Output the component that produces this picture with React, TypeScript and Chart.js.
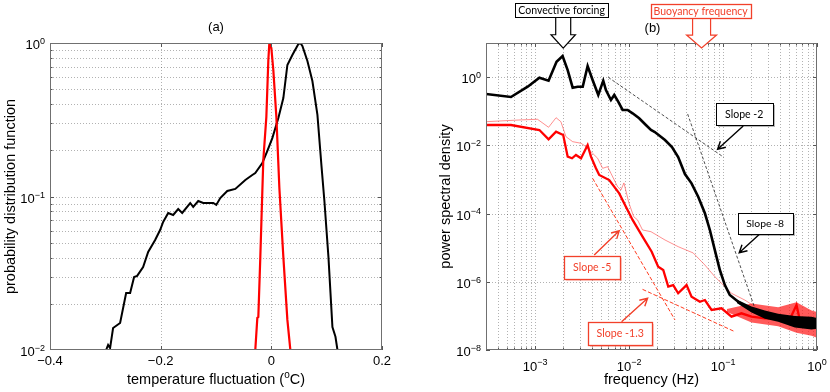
import React, { useEffect, useRef } from "react";
import { Chart, registerables } from "chart.js";

Chart.register(...registerables);

// ---------------- Panel (a): probability distribution function ----------------
const tempBlack = [-0.2986, -0.295, -0.2914, -0.286, -0.2733, -0.2624, -0.2552, -0.248, -0.2425, -0.2317, -0.2226, -0.21, -0.201, -0.1955, -0.1864, -0.1774, -0.1683, -0.1611, -0.1466, -0.1412, -0.1321, -0.1231, -0.105, -0.0995, -0.0923, -0.0796, -0.0651, -0.047, -0.0344, -0.029, -0.0163, -0.0072, 0.0018, 0.0127, 0.0217, 0.029, 0.038, 0.0489, 0.0525, 0.0561, 0.0652, 0.0742, 0.0833, 0.0905, 0.0959, 0.1032, 0.1104, 0.1159, 0.1195];
const pdfBlack = [0.01, 0.0108, 0.0103, 0.0139, 0.015, 0.0235, 0.0235, 0.0299, 0.0304, 0.0347, 0.0435, 0.0521, 0.0605, 0.0682, 0.0781, 0.0758, 0.0829, 0.0781, 0.0907, 0.0855, 0.0935, 0.0907, 0.0907, 0.0881, 0.0977, 0.1086, 0.112, 0.128, 0.138, 0.142, 0.165, 0.198, 0.24, 0.325, 0.438, 0.719, 0.835, 0.985, 1.0, 0.956, 0.763, 0.565, 0.34, 0.16, 0.0935, 0.0404, 0.0141, 0.0122, 0.01];
const tempRed = [-0.029, -0.0253, -0.0235, -0.0199, -0.0163, -0.0145, -0.009, -0.0054, -0.0036, 0.0, 0.0036, 0.0091, 0.0145, 0.0217, 0.029, 0.0344];
const pdfRed = [0.01, 0.0162, 0.0164, 0.0404, 0.107, 0.173, 0.33, 0.775, 1.0, 0.928, 0.667, 0.33, 0.114, 0.0404, 0.0157, 0.01];

const tempTicks = [-0.4, -0.2, 0, 0.2];
const tempTickLabels = ["\u22120.4", "\u22120.2", "0", "0.2"];
const pdfDecades = [0.01, 0.1, 1];
const pdfExps = ["\u22122", "\u22121", "0"];

// ---------------- Panel (b): power spectral density ----------------
const freqBlack = [3.0e-4, 5.53e-4, 8.33e-4, 1.11e-3, 1.39e-3, 1.69e-3, 1.96e-3, 2.22e-3, 2.51e-3, 2.84e-3, 3.21e-3, 3.62e-3, 4.09e-3, 4.70e-3, 5.31e-3, 5.67e-3, 6.41e-3, 6.95e-3, 7.66e-3, 8.53e-3, 9.64e-3, 1.09e-2, 1.28e-2, 1.51e-2, 1.71e-2, 1.88e-2, 2.41e-2, 2.86e-2, 3.33e-2, 3.93e-2, 4.62e-2, 5.44e-2, 6.41e-2, 7.24e-2, 8.18e-2, 9.25e-2, 0.1046, 0.118, 0.145, 0.201, 0.279, 0.386, 0.581, 0.875, 1.0];
const psdBlack = [0.32, 0.261, 0.524, 0.96, 0.785, 2.83, 4.16, 1.61, 0.49, 0.524, 0.524, 2.12, 0.822, 0.299, 0.785, 0.419, 0.213, 0.299, 0.19, 0.109, 0.109, 0.0869, 0.062, 0.0394, 0.0281, 0.0246, 0.0143, 0.00893, 0.00455, 0.00144, 7.7e-4, 3.12e-4, 1.02e-4, 3.3e-5, 8.5e-6, 2.21e-6, 8.0e-7, 4.09e-7, 2.6e-7, 1.49e-7, 1.06e-7, 8.5e-8, 6.7e-8, 6.05e-8, 6.1e-8];

const freqRed = [3.0e-4, 5.53e-4, 1.11e-3, 1.39e-3, 1.67e-3, 1.99e-3, 2.22e-3, 2.47e-3, 2.72e-3, 3.08e-3, 3.62e-3, 3.93e-3, 4.44e-3, 4.81e-3, 6.15e-3, 7.85e-3, 9.25e-3, 1.09e-2, 1.39e-2, 1.74e-2, 2.04e-2, 2.31e-2, 2.61e-2, 2.95e-2, 3.33e-2, 4.09e-2, 4.62e-2, 5.67e-2, 6.41e-2, 7.55e-2, 9.64e-2, 0.123, 0.157, 0.201, 0.279, 0.383, 0.514, 0.605, 0.656, 0.798, 1.0];
const psdRed = [0.0394, 0.0394, 0.0281, 0.015, 0.0251, 0.0201, 0.00465, 0.00417, 0.00521, 0.00417, 0.0102, 0.00465, 0.00212, 0.00135, 9.6e-4, 3.9e-4, 1.59e-4, 6.5e-5, 2.1e-5, 7.6e-6, 2.77e-6, 2.21e-6, 7.2e-7, 8.0e-7, 4.6e-7, 8.0e-7, 3.66e-7, 2.6e-7, 2.92e-7, 1.49e-7, 1.67e-7, 9.5e-8, 1.19e-7, 9.5e-8, 8.5e-8, 8.6e-8, 8.0e-8, 2.09e-7, 7.7e-8, 4.8e-8, 6.1e-8];

const freqRedThin = [3.0e-4, 6.73e-4, 1.06e-3, 1.39e-3, 1.67e-3, 1.88e-3, 2.13e-3, 2.51e-3, 3.08e-3, 3.48e-3, 4.09e-3, 4.63e-3, 5.23e-3, 5.91e-3, 6.41e-3, 7.55e-3, 8.19e-3, 8.81e-3, 9.96e-3, 1.12e-2, 1.23e-2, 1.39e-2, 1.71e-2, 2.41e-2, 3.33e-2, 4.81e-2, 6.41e-2, 8.18e-2, 0.1046, 0.123, 0.171, 0.247, 0.403, 0.656, 1.0];
const psdRedThin = [0.0493, 0.0553, 0.058, 0.0338, 0.0646, 0.0493, 0.0179, 0.0128, 0.0115, 0.00912, 0.00584, 0.00417, 0.00212, 0.00237, 0.00151, 6.1e-4, 4.9e-4, 7.9e-4, 2.04e-4, 8.1e-5, 6.5e-5, 3.3e-5, 2.94e-5, 1.68e-5, 1.07e-5, 7.0e-6, 3.1e-6, 1.41e-6, 7.2e-7, 4.6e-7, 2.9e-7, 1.5e-7, 8.6e-8, 6.6e-8, 3.8e-8];

// high-frequency noise envelopes
const freqBlackNoise = [0.14, 0.201, 0.279, 0.386, 0.581, 0.875, 1.0];
const psdBlackNoiseHi = [3.0e-7, 1.9e-7, 1.45e-7, 1.15e-7, 1.0e-7, 9.5e-8, 8.7e-8];
const psdBlackNoiseLo = [2.4e-7, 1.25e-7, 8.3e-8, 6.7e-8, 4.6e-8, 4.0e-8, 4.2e-8];
const freqRedNoise = [0.11, 0.201, 0.386, 0.605, 0.875, 1.0];
const psdRedNoiseHi = [1.6e-7, 2.3e-7, 1.8e-7, 2.5e-7, 1.45e-7, 1.3e-7];
const psdRedNoiseLo = [1.3e-7, 6.4e-8, 5.0e-8, 3.2e-8, 2.6e-8, 2.3e-8];

// reference slope lines
const slope2F = [6.0e-3, 0.102];
const slope2P = [0.986, 4.45e-3];
const slope8F = [0.042, 0.218];
const slope8P = [0.083, 1.67e-7];
const slope5F = [4.09e-3, 0.0308];
const slope5P = [1.08e-3, 7.6e-8];
const slope13F = [0.0139, 0.134];
const slope13P = [6.0e-7, 3.43e-8];

const freqDecades = [1e-3, 1e-2, 1e-1, 1];
const freqExps = ["\u22123", "\u22122", "\u22121", "0"];
const psdDecades = [1e-8, 1e-6, 1e-4, 1e-2, 1];
const psdExps = ["\u22128", "\u22126", "\u22124", "\u22122", "0"];

// ---------------- styling ----------------
const FONT = '"Liberation Sans", Arial, Helvetica, sans-serif';
const CALLOUT_FONT = 'Lato, "Open Sans", "DejaVu Sans", sans-serif';
const GRID = "rgba(0,0,0,0.3)";
const BORDER = "#707070";
const CALLOUT_RED = "#f2402a";

const slopeCallouts = [
  { text: "Slope -2", color: "#000", tipF: 0.0875, tipP: 7.66e-3, tail: [25.6, -23.3], box: [26.6, -35.1], size: [57, 22], textW: 38.3 },
  { text: "Slope -8", color: "#000", tipF: 0.1486, tipP: 7.1e-6, tail: [25.7, -23.4], box: [25.9, -29.7], size: [55, 21], textW: 37.7 },
  { text: "Slope -5", color: CALLOUT_RED, tipF: 7.85e-3, tipP: 3.14e-5, tail: [-25, 24.3], box: [-27, 36.3], size: [56, 23], textW: 38.3 },
  { text: "Slope -1.3", color: CALLOUT_RED, tipF: 0.01574, tipP: 3.27e-7, tail: [-26, 23.4], box: [-27.4, 35], size: [64, 23], textW: 47.3 },
];
const forcingCallouts = [
  { text: "Convective forcing", color: "#000", tipF: 1.99e-3, tipP: 7.1, box: [-1.6, -38], size: [93, 14], textW: 86.7, shaft: 7.5, head: 12.2, headLen: 13.3 },
  { text: "Buoyancy frequency", color: CALLOUT_RED, tipF: 0.0591, tipP: 7.1, box: [-0.9, -37.4], size: [100, 14], textW: 94.3, shaft: 9, head: 15, headLen: 13 },
];

function pts(xs: number[], ys: number[]) {
  return xs.map((x, i) => ({ x, y: ys[i] }));
}

function logMinor(lo: number, hi: number, startDecade: number, endDecade: number) {
  const out: number[] = [];
  for (let d = startDecade; d <= endDecade; d++) {
    for (let m = 1; m <= 9; m++) {
      const v = m * Math.pow(10, d);
      if (v > lo * 1.0001 && v < hi * 0.9999) out.push(v);
    }
  }
  return out;
}

function drawPower(ctx: CanvasRenderingContext2D, base: string, exp: string, x: number, y: number, align: "right" | "center", raise = 5.5) {
  ctx.font = `13px ${FONT}`;
  const wb = ctx.measureText(base).width;
  ctx.font = `9px ${FONT}`;
  const we = ctx.measureText(exp).width;
  const total = wb + we;
  const x0 = align === "right" ? x - total : x - total / 2;
  ctx.textAlign = "left";
  ctx.textBaseline = "alphabetic";
  ctx.font = `13px ${FONT}`;
  ctx.fillText(base, x0, y);
  ctx.font = `9px ${FONT}`;
  ctx.fillText(exp, x0 + wb, y - raise);
}

function drawFrame(ctx: CanvasRenderingContext2D, ca: any) {
  ctx.save();
  ctx.setLineDash([]);
  ctx.strokeStyle = BORDER;
  ctx.lineWidth = 1;
  ctx.strokeRect(ca.left + 0.5, ca.top + 0.5, ca.right - ca.left - 1, ca.bottom - ca.top - 1);
  ctx.restore();
}

function drawYTitle(ctx: CanvasRenderingContext2D, text: string, x: number, cy: number) {
  ctx.save();
  ctx.translate(x, cy);
  ctx.rotate(-Math.PI / 2);
  ctx.font = `14.5px ${FONT}`;
  ctx.textAlign = "center";
  ctx.textBaseline = "alphabetic";
  ctx.fillStyle = "#000";
  ctx.fillText(text, 0, 0);
  ctx.restore();
}

function fitFont(ctx: CanvasRenderingContext2D, text: string, targetW: number) {
  ctx.font = `20px ${CALLOUT_FONT}`;
  const w = ctx.measureText(text).width;
  const size = (20 * targetW) / w;
  return `${size.toFixed(2)}px ${CALLOUT_FONT}`;
}

function drawBox(ctx: CanvasRenderingContext2D, text: string, cx: number, cy: number, w: number, h: number, color: string, textW: number, shadow: boolean) {
  const x = Math.round(cx - w / 2) + 0.5;
  const y = Math.round(cy - h / 2) + 0.5;
  if (shadow) {
    ctx.fillStyle = color === "#000" ? "rgba(0,0,0,0.28)" : "rgba(240,70,50,0.25)";
    ctx.fillRect(x + 1.5, y + 1.5, w, h);
  }
  ctx.fillStyle = "#fff";
  ctx.fillRect(x, y, w, h);
  ctx.strokeStyle = color;
  ctx.lineWidth = color === "#000" ? 1 : 1.3;
  ctx.setLineDash([]);
  ctx.strokeRect(x, y, w, h);
  ctx.fillStyle = color;
  ctx.font = fitFont(ctx, text, textW);
  ctx.textAlign = "center";
  ctx.textBaseline = "middle";
  ctx.fillText(text, cx, cy + 0.5);
}

const panelAPlugin = {
  id: "panelA",
  beforeDatasetsDraw(chart: any) {
    const { ctx, chartArea: ca, scales } = chart;
    const xs = scales.x, ys = scales.y;
    ctx.save();
    ctx.strokeStyle = GRID;
    ctx.lineWidth = 1;
    ctx.setLineDash([1, 2]);
    ctx.beginPath();
    for (const v of tempTicks.slice(1, -1)) {
      const px = Math.round(xs.getPixelForValue(v)) + 0.5;
      ctx.moveTo(px, ca.top);
      ctx.lineTo(px, ca.bottom);
    }
    for (const v of logMinor(0.01, 1, -2, -1)) {
      const py = Math.round(ys.getPixelForValue(v)) + 0.5;
      ctx.moveTo(ca.left, py);
      ctx.lineTo(ca.right, py);
    }
    ctx.stroke();
    ctx.restore();
  },
  afterDatasetsDraw(chart: any) {
    const { ctx, chartArea: ca, scales } = chart;
    const xs = scales.x, ys = scales.y;
    ctx.save();
    ctx.setLineDash([]);
    ctx.strokeStyle = "#555";
    ctx.lineWidth = 1;
    ctx.beginPath();
    for (const v of tempTicks) {
      const px = Math.round(xs.getPixelForValue(v)) + 0.5;
      ctx.moveTo(px, ca.bottom); ctx.lineTo(px, ca.bottom - 4);
      ctx.moveTo(px, ca.top); ctx.lineTo(px, ca.top + 4);
    }
    for (const v of logMinor(0.01, 1, -2, -1)) {
      const py = Math.round(ys.getPixelForValue(v)) + 0.5;
      const len = Math.abs(Math.log10(v) - Math.round(Math.log10(v))) < 1e-6 ? 4 : 2.5;
      ctx.moveTo(ca.left, py); ctx.lineTo(ca.left + len, py);
      ctx.moveTo(ca.right, py); ctx.lineTo(ca.right - len, py);
    }
    ctx.stroke();
    ctx.restore();
    drawFrame(ctx, ca);

    ctx.save();
    ctx.fillStyle = "#000";
    ctx.font = `13px ${FONT}`;
    ctx.textAlign = "center";
    ctx.textBaseline = "alphabetic";
    tempTicks.forEach((v, i) => ctx.fillText(tempTickLabels[i], xs.getPixelForValue(v), ca.bottom + 15));
    pdfDecades.forEach((v, i) => drawPower(ctx, "10", pdfExps[i], ca.left - 5, ys.getPixelForValue(v) + 6, "right", 4.8));

    const cx = (ca.left + ca.right) / 2;
    ctx.font = `13px ${FONT}`;
    ctx.textAlign = "center";
    ctx.fillText("(a)", cx, ca.top - 12);

    const p1 = "temperature fluctuation (", sup = "o", p2 = "C)";
    ctx.font = `14.5px ${FONT}`;
    const w1 = ctx.measureText(p1).width, w3 = ctx.measureText(p2).width;
    ctx.font = `10px ${FONT}`;
    const w2 = ctx.measureText(sup).width;
    const x0 = cx - (w1 + w2 + w3) / 2;
    const by = ca.bottom + 34;
    ctx.textAlign = "left";
    ctx.font = `14.5px ${FONT}`;
    ctx.fillText(p1, x0, by);
    ctx.font = `10px ${FONT}`;
    ctx.fillText(sup, x0 + w1, by - 6.5);
    ctx.font = `14.5px ${FONT}`;
    ctx.fillText(p2, x0 + w1 + w2, by);
    ctx.restore();

    drawYTitle(ctx, "probability distribution function", 15, (ca.top + ca.bottom) / 2);
  },
};

const panelBPlugin = {
  id: "panelB",
  beforeDatasetsDraw(chart: any) {
    const { ctx, chartArea: ca, scales } = chart;
    const xs = scales.x, ys = scales.y;
    ctx.save();
    ctx.strokeStyle = GRID;
    ctx.lineWidth = 1;
    ctx.setLineDash([1, 2]);
    ctx.beginPath();
    for (const v of logMinor(3e-4, 1, -4, -1)) {
      const px = Math.round(xs.getPixelForValue(v)) + 0.5;
      ctx.moveTo(px, ca.top);
      ctx.lineTo(px, ca.bottom);
    }
    for (const v of psdDecades.slice(1)) {
      const py = Math.round(ys.getPixelForValue(v)) + 0.5;
      ctx.moveTo(ca.left, py);
      ctx.lineTo(ca.right, py);
    }
    ctx.stroke();
    ctx.restore();
  },
  afterDatasetsDraw(chart: any) {
    const { ctx, chartArea: ca, scales } = chart;
    const xs = scales.x, ys = scales.y;
    ctx.save();
    ctx.setLineDash([]);
    ctx.strokeStyle = "#555";
    ctx.lineWidth = 1;
    ctx.beginPath();
    for (const v of logMinor(3e-4, 1.01, -4, 0)) {
      const px = Math.round(xs.getPixelForValue(v)) + 0.5;
      const len = Math.abs(Math.log10(v) - Math.round(Math.log10(v))) < 1e-6 ? 4 : 2.5;
      ctx.moveTo(px, ca.bottom); ctx.lineTo(px, ca.bottom - len);
      ctx.moveTo(px, ca.top); ctx.lineTo(px, ca.top + len);
    }
    for (const v of psdDecades) {
      const py = Math.round(ys.getPixelForValue(v)) + 0.5;
      ctx.moveTo(ca.left, py); ctx.lineTo(ca.left + 4, py);
      ctx.moveTo(ca.right, py); ctx.lineTo(ca.right - 4, py);
    }
    ctx.stroke();
    ctx.restore();
    drawFrame(ctx, ca);

    ctx.save();
    ctx.fillStyle = "#000";
    freqDecades.forEach((v, i) => drawPower(ctx, "10", freqExps[i], xs.getPixelForValue(v), ca.bottom + 20.5, "center", 6));
    psdDecades.forEach((v, i) => drawPower(ctx, "10", psdExps[i], ca.left - 5, ys.getPixelForValue(v) + 6, "right", 5.2));

    const cx = (ca.left + ca.right) / 2;
    ctx.font = `13px ${FONT}`;
    ctx.textAlign = "center";
    ctx.textBaseline = "alphabetic";
    ctx.fillText("(b)", cx + 1, ca.top - 11.5);
    ctx.font = `14.5px ${FONT}`;
    ctx.fillText("frequency (Hz)", cx, ca.bottom + 34);
    ctx.restore();

    drawYTitle(ctx, "power spectral density", ca.left - 36, (ca.top + ca.bottom) / 2);

    for (const c of slopeCallouts) {
      const tx = xs.getPixelForValue(c.tipF);
      const ty = ys.getPixelForValue(c.tipP);
      const sx = tx + c.tail[0], sy = ty + c.tail[1];
      ctx.save();
      ctx.strokeStyle = c.color;
      ctx.lineWidth = 1.4;
      ctx.setLineDash([]);
      ctx.beginPath();
      ctx.moveTo(sx, sy);
      ctx.lineTo(tx, ty);
      const ang = Math.atan2(ty - sy, tx - sx);
      const L = 8.5, a = 0.5;
      ctx.moveTo(tx - L * Math.cos(ang - a), ty - L * Math.sin(ang - a));
      ctx.lineTo(tx, ty);
      ctx.lineTo(tx - L * Math.cos(ang + a), ty - L * Math.sin(ang + a));
      ctx.stroke();
      drawBox(ctx, c.text, tx + c.box[0], ty + c.box[1], c.size[0], c.size[1], c.color, c.textW, true);
      ctx.restore();
    }

    for (const c of forcingCallouts) {
      const tx = xs.getPixelForValue(c.tipF);
      const ty = ys.getPixelForValue(c.tipP);
      const bcx = tx + c.box[0], bcy = ty + c.box[1];
      const topY = bcy + c.size[1] / 2;
      const hy = ty - c.headLen;
      ctx.save();
      ctx.setLineDash([]);
      ctx.beginPath();
      ctx.moveTo(tx - c.shaft, topY);
      ctx.lineTo(tx - c.shaft, hy);
      ctx.lineTo(tx - c.head, hy);
      ctx.lineTo(tx, ty);
      ctx.lineTo(tx + c.head, hy);
      ctx.lineTo(tx + c.shaft, hy);
      ctx.lineTo(tx + c.shaft, topY);
      ctx.fillStyle = "#fff";
      ctx.fill();
      ctx.strokeStyle = c.color;
      ctx.lineWidth = 1.2;
      ctx.stroke();
      drawBox(ctx, c.text, bcx, bcy, c.size[0], c.size[1], c.color, c.textW, false);
      ctx.restore();
    }
  },
};

function baseOptions(padRight: number) {
  return {
    animation: false as const,
    responsive: false,
    devicePixelRatio: 1,
    events: [] as any[],
    layout: { padding: { top: 43, right: padRight, left: 0, bottom: 0 } },
    plugins: { legend: { display: false }, tooltip: { enabled: false }, title: { display: false } },
    elements: { point: { radius: 0 }, line: { tension: 0 } },
    scales: {} as any,
  };
}

function hiddenAxis(extra: any, fit: (s: any) => void) {
  return {
    ...extra,
    display: true,
    ticks: { display: false },
    grid: { display: false, drawTicks: false },
    border: { display: false },
    title: { display: false },
    afterFit: fit,
  };
}

export default function App() {
  const refA = useRef<HTMLCanvasElement>(null);
  const refB = useRef<HTMLCanvasElement>(null);

  useEffect(() => {
    // Chart.js paints the first dataset on top, so series are listed top-most first.
    const optA: any = baseOptions(33);
    optA.scales = {
      x: hiddenAxis({ type: "linear", min: -0.4, max: 0.2 }, (s: any) => { s.height = 42; }),
      y: hiddenAxis({ type: "logarithmic", min: 0.01, max: 1 }, (s: any) => { s.width = 50; }),
    };
    const chartA = new Chart(refA.current as HTMLCanvasElement, {
      type: "line",
      data: {
        datasets: [
          { data: pts(tempRed, pdfRed), borderColor: "#ff0000", borderWidth: 2.2, pointRadius: 0, fill: false },
          { data: pts(tempBlack, pdfBlack), borderColor: "#000", borderWidth: 2, pointRadius: 0, fill: false },
        ],
      },
      options: optA,
      plugins: [panelAPlugin],
    });

    const optB: any = baseOptions(13);
    optB.scales = {
      x: hiddenAxis({ type: "logarithmic", min: 3e-4, max: 1 }, (s: any) => { s.height = 42; }),
      y: hiddenAxis({ type: "logarithmic", min: 1e-8, max: 10 }, (s: any) => { s.width = 71; }),
    };
    const band = (xs: number[], ys: number[]) => ({ data: pts(xs, ys), borderWidth: 0, borderColor: "transparent", pointRadius: 0, fill: false });
    const chartB = new Chart(refB.current as HTMLCanvasElement, {
      type: "line",
      data: {
        datasets: [
          { data: pts(slope2F, slope2P), borderColor: "#222", borderWidth: 0.8, borderDash: [3, 2], pointRadius: 0, fill: false },
          { data: pts(slope8F, slope8P), borderColor: "#222", borderWidth: 0.8, borderDash: [3, 2], pointRadius: 0, fill: false },
          { data: pts(freqBlack, psdBlack), borderColor: "#000", borderWidth: 2.6, pointRadius: 0, fill: false },
          { ...band(freqBlackNoise, psdBlackNoiseHi), fill: "+1", backgroundColor: "#000" },
          band(freqBlackNoise, psdBlackNoiseLo),
          { data: pts(slope5F, slope5P), borderColor: "#ff3b1f", borderWidth: 1, borderDash: [4, 2], pointRadius: 0, fill: false },
          { data: pts(slope13F, slope13P), borderColor: "#ff3b1f", borderWidth: 1, borderDash: [4, 2], pointRadius: 0, fill: false },
          { data: pts(freqRed, psdRed), borderColor: "#ff0000", borderWidth: 2.3, pointRadius: 0, fill: false },
          { data: pts(freqRedThin, psdRedThin), borderColor: "rgba(255,70,70,0.6)", borderWidth: 1, pointRadius: 0, fill: false },
          { ...band(freqRedNoise, psdRedNoiseHi), fill: "+1", backgroundColor: "rgba(255,20,20,0.7)" },
          band(freqRedNoise, psdRedNoiseLo),
        ],
      },
      options: optB,
      plugins: [panelBPlugin],
    });

    return () => {
      chartA.destroy();
      chartB.destroy();
    };
  }, []);

  return (
    <div style={{ position: "fixed", left: 0, top: 0, width: 830, height: 392, background: "#fff" }}>
      <canvas ref={refA} width={415} height={392} style={{ position: "absolute", left: 0, top: 0, width: 415, height: 392 }} />
      <canvas ref={refB} width={415} height={392} style={{ position: "absolute", left: 415, top: 0, width: 415, height: 392 }} />
    </div>
  );
}
